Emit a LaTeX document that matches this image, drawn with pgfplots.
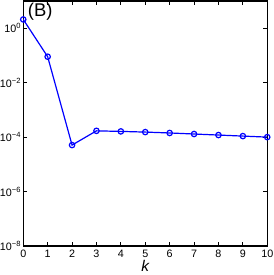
\documentclass[border=0pt]{standalone}
\usepackage{fontspec}
\setmainfont{Liberation Sans}
\usepackage{pgfplots}
\pgfplotsset{compat=1.18}
\begin{document}
\begin{tikzpicture}[x=1bp,y=1bp]
\begin{axis}[
  scale only axis,
  width=244bp, height=245bp,
  ymode=log,
  xmin=0, xmax=10,
  ymin=1e-8, ymax=10,
  xtick={0,1,...,10},
  ytick={1e-8,1e-6,1e-4,1e-2,1},
  yticklabels={10\textsuperscript{−8},10\textsuperscript{−6},10\textsuperscript{−4},10\textsuperscript{−2},10\textsuperscript{0}},
  minor tick num=0,
  yminorticks=false,
  tick align=inside,
  major tick length=4bp,
  axis line style={line width=1.3bp},
  every tick/.style={black, line width=0.8bp},
  tick label style={font=\fontsize{10.8}{11}\selectfont},
  /pgf/number format/assume math mode=true,
  yticklabel style={inner sep=0pt, xshift=-2bp},
  xticklabel style={inner xsep=0pt, inner ysep=4bp},
  clip=false,
]
\addplot[color=blue, line width=1.2bp, mark=o, mark size=2.7bp, mark options={line width=1.2bp}] coordinates {
(0,2.1) (1,0.09) (2,5.1e-5) (3,1.7e-4) (4,1.62e-4) (5,1.53e-4) (6,1.42e-4) (7,1.3e-4) (8,1.19e-4) (9,1.09e-4) (10,1.0e-4)
};
\node[anchor=north west, font=\fontsize{18.5}{18.5}\selectfont, inner sep=0pt] at ([xshift=4.5bp,yshift=-1.5bp]rel axis cs:0,1) {(B)};
\node[anchor=north, font=\fontsize{15.5}{15.5}\selectfont\itshape, inner sep=0pt] at ([yshift=-14.5bp]rel axis cs:0.5,0) {k};
\path ([yshift=-29bp]rel axis cs:0.5,0) -- ([yshift=1bp]rel axis cs:0.5,1);
\end{axis}
\end{tikzpicture}
\end{document}
